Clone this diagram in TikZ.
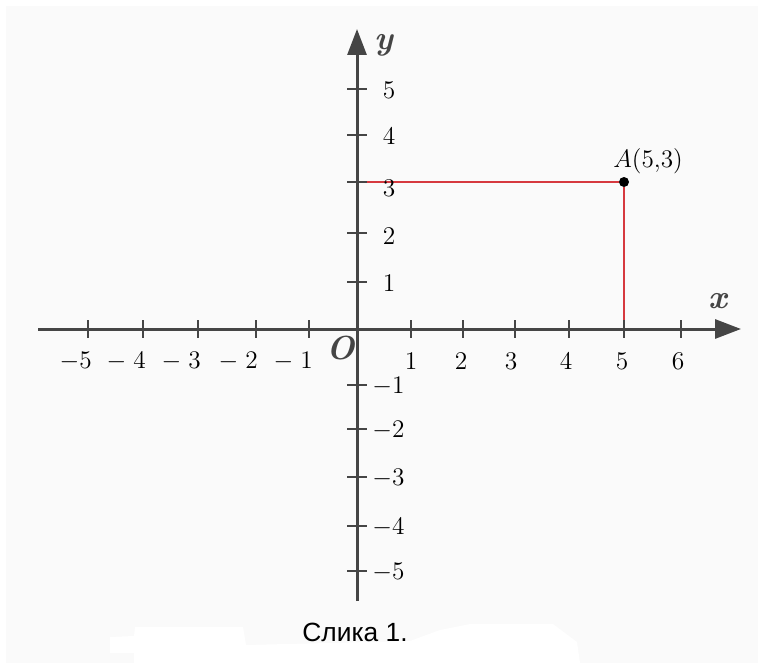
\documentclass[tikz,border=0pt]{standalone}
\usepackage{fontspec}
\newfontfamily\capfont{Liberation Sans}
\usetikzlibrary{arrows.meta}
\definecolor{axisgray}{HTML}{454545}
\definecolor{bggray}{HTML}{FAFAFA}
\definecolor{redline}{HTML}{D6393F}
\tikzset{
  axisline/.style={draw=axisgray, line width=0.06cm, -{Triangle[length=0.52cm,width=0.38cm]}},
  tickline/.style={draw=axisgray, line width=0.04cm},
  guideline/.style={draw=redline, line width=0.05cm},
  ticklabel/.style={inner sep=0pt, font=\fontsize{14.5}{16}\selectfont, text=black},
  axislabel/.style={inner sep=0pt, font=\fontsize{19}{21}\selectfont\bfseries\itshape, text=axisgray},
  caplabel/.style={inner sep=0pt, font=\capfont\fontsize{15}{17}\selectfont},
}
\begin{document}
\begin{tikzpicture}[x=0.02cm,y=-0.02cm]
\useasboundingbox (0,0) rectangle (758,663);
\fill[white] (0,0) rectangle (758,663);
\fill[bggray] (6,6) rectangle (758,663);
\fill[white] (110,653) -- (110,637) -- (134,636) -- (135,627) -- (243,627) -- (246,645)
  -- (410,641) -- (440,630) -- (470,624) -- (553,624) -- (577,642) -- (580,663)
  -- (134,663) -- (134,653) -- cycle;

% axes
\coordinate (O) at (357,329);
\coordinate (xs) at (38,329);
\coordinate (xe) at (741,329);
\coordinate (ys) at (357,601);
\coordinate (ye) at (357,29);

% guides to A
\node[circle, fill=black, inner sep=0pt, minimum size=0.2cm] (A) at (624,182) {};
\coordinate (Ay) at (348,182);
\coordinate (Ax) at (624,329);
\draw[guideline] (Ay) -- (A);
\draw[guideline] (A) -- (Ax);

\draw[axisline] (xs) -- (xe);
\draw[axisline] (ys) -- (ye);

% x ticks
\foreach \p in {88,143,198,256,309,411,463,515,569,624,681}
  \draw[tickline] (\p,320) -- (\p,338);
% y ticks
\foreach \q in {89,135,182,233,282,385,429,477,526,571}
  \draw[tickline] (347,\q) -- (367,\q);

% x labels
\node[ticklabel, anchor=east] (xm5) at (92,361) {$-5$};
\node[ticklabel, anchor=east] (xm4) at (146,361) {$-\;4$};
\node[ticklabel, anchor=east] (xm3) at (201,361) {$-\;3$};
\node[ticklabel, anchor=east] (xm2) at (258,361) {$-\;2$};
\node[ticklabel, anchor=east] (xm1) at (313,361) {$-\;1$};
\node[ticklabel] (x1) at (411,361) {1};
\node[ticklabel] (x2) at (461,361) {2};
\node[ticklabel] (x3) at (511,361) {3};
\node[ticklabel] (x4) at (566,361) {4};
\node[ticklabel] (x5) at (622,361) {5};
\node[ticklabel] (x6) at (678,361) {6};

% y labels
\node[ticklabel] (y5) at (389,90) {5};
\node[ticklabel] (y4) at (389,136) {4};
\node[ticklabel] (y3) at (389,188) {3};
\node[ticklabel] (y2) at (389,236) {2};
\node[ticklabel] (y1) at (389,283) {1};
\node[ticklabel, anchor=west] (ym1) at (372,386) {$-1$};
\node[ticklabel, anchor=west] (ym2) at (372,430) {$-2$};
\node[ticklabel, anchor=west] (ym3) at (372,478) {$-3$};
\node[ticklabel, anchor=west] (ym4) at (372,527) {$-4$};
\node[ticklabel, anchor=west] (ym5) at (372,572) {$-5$};

% axis names
\node[axislabel] (Olab) at (341,348) {O};
\node[axislabel] (xlab) at (718,301) {x};
\node[axislabel] (ylab) at (384,45) {y};

% point label
\node[ticklabel, font=\fontsize{15}{17}\selectfont, anchor=south west] (Alab) at (613,174) {$A(5{,}3)$};

% caption
\node[caplabel] (cap) at (355,632) {Слика 1.};
\end{tikzpicture}
\end{document}
